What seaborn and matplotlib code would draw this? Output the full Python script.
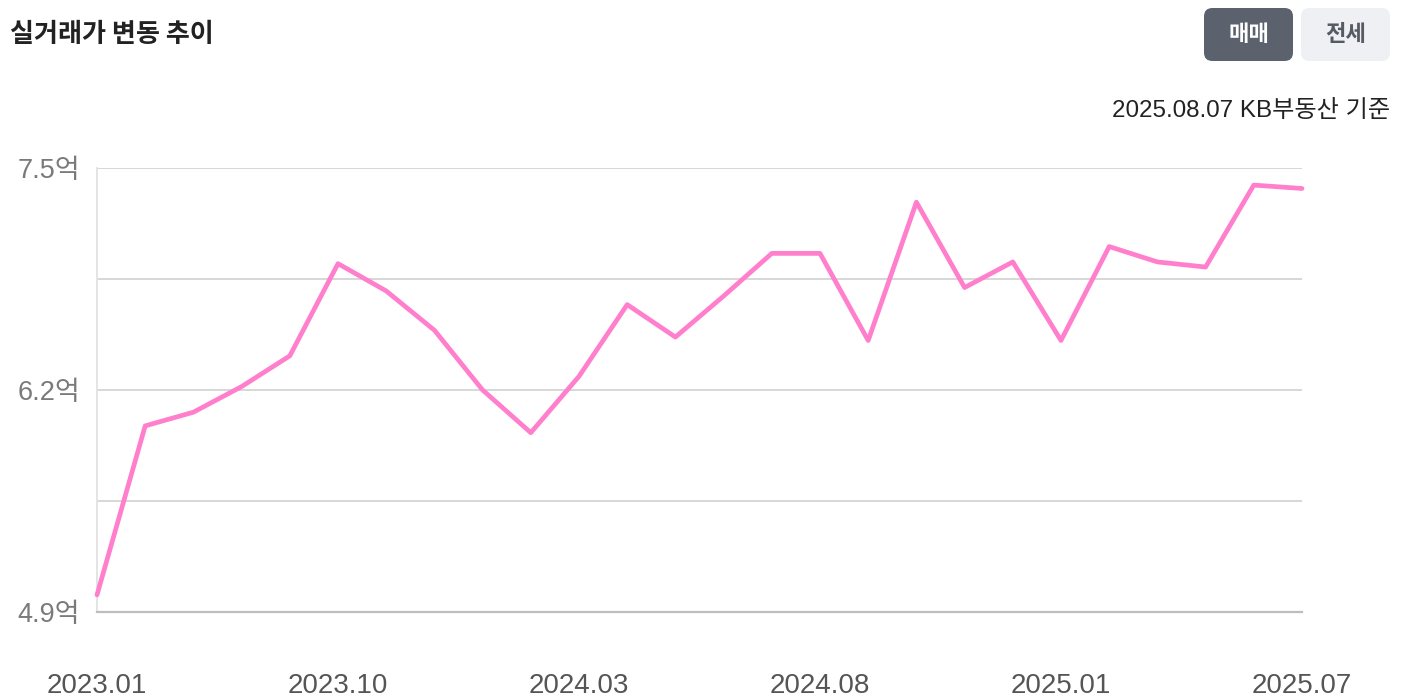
import matplotlib
matplotlib.use("Agg")
import matplotlib.pyplot as plt
from matplotlib.patches import FancyBboxPatch
import seaborn as sns
import pandas as pd

# ---- data ----
point_index = list(range(26))
prices = [5.00, 5.99, 6.07, 6.22, 6.40, 6.94, 6.78, 6.55, 6.20, 5.95,
          6.28, 6.70, 6.51, 6.75, 7.00, 7.00, 6.49, 7.30, 6.80, 6.95,
          6.49, 7.04, 6.95, 6.92, 7.40, 7.38]
x_tick_pos = [0, 5, 10, 15, 20, 25]
x_tick_labels = ["2023.01", "2023.10", "2024.03", "2024.08", "2025.01", "2025.07"]
y_ticks = [4.9, 5.55, 6.2, 6.85, 7.5]
y_tick_labels = ["4.9억", "", "6.2억", "", "7.5억"]
title = "실거래가 변동 추이"
source = "2025.08.07 KB부동산 기준"
btn_active = "매매"
btn_inactive = "전세"

df = pd.DataFrame({"idx": point_index, "price": prices})

sns.set_theme(style="white")
FAM = ["Liberation Sans", "Noto Sans CJK KR", "DejaVu Sans"]
plt.rcParams["font.family"] = FAM

W, H = 1404, 698
fig = plt.figure(figsize=(W / 100, H / 100), dpi=100)
ax = fig.add_axes([97 / W, 1 - 612 / H, (1302 - 97) / W, (612 - 168) / H])

sns.lineplot(data=df, x="idx", y="price", ax=ax, color="#ff7fcd", linewidth=3.4,
             clip_on=False, zorder=5)

ax.set_xlim(0, 25)
ax.set_ylim(4.9, 7.5)
ax.set_xticks(x_tick_pos)
ax.set_xticklabels(x_tick_labels)
ax.set_yticks(y_ticks)
ax.set_yticklabels(y_tick_labels)
ax.set_xlabel("")
ax.set_ylabel("")

ax.grid(axis="y", color="#d4d4d4", linewidth=1.3)
ax.grid(axis="x", visible=False)
for s in ["top", "right"]:
    ax.spines[s].set_visible(False)
ax.spines["left"].set_color("#e2e2e2")
ax.spines["left"].set_linewidth(1.3)
ax.spines["bottom"].set_color("#bdbdbd")
ax.spines["bottom"].set_linewidth(1.6)

ax.tick_params(axis="y", length=10, width=1.3, color="#d4d4d4", pad=2,
               labelsize=19.5, labelcolor="#7a7a7a")
ax.tick_params(axis="x", length=0, pad=44, labelsize=20, labelcolor="#555555")
for lab in ax.get_yticklabels() + ax.get_xticklabels():
    lab.set_family(FAM)

# title
fig.text(10 / W, 1 - 35 / H, title, ha="left", va="center", fontsize=18.8,
         fontweight="bold", color="#222222", family=["Noto Sans CJK KR", "DejaVu Sans"])

# buttons
def button(x0, x1, y0, y1, face, text, tcolor):
    box = FancyBboxPatch((x0 / W, 1 - y1 / H), (x1 - x0) / W, (y1 - y0) / H,
                         boxstyle="round,pad=0,rounding_size=0.006",
                         transform=fig.transFigure, facecolor=face, edgecolor="none",
                         mutation_aspect=W / H)
    fig.add_artist(box)
    fig.text((x0 + x1) / 2 / W, 1 - (y0 + y1) / 2 / H, text, ha="center", va="center",
             fontsize=16, fontweight="bold", color=tcolor,
             family=["Noto Sans CJK KR", "DejaVu Sans"])

button(1204, 1293, 8, 61, "#5b616d", btn_active, "#ffffff")
button(1301, 1390, 8, 61, "#eff0f4", btn_inactive, "#555a63")

fig.text(1390 / W, 1 - 111 / H, source, ha="right", va="center", fontsize=17.4,
         color="#222222", family=FAM)

fig.savefig("out.png", dpi=100)
